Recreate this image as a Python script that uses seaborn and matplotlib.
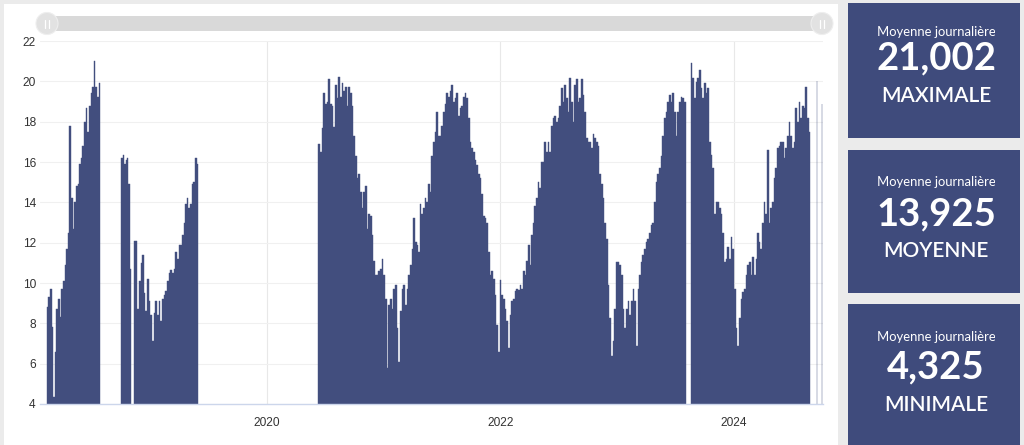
import numpy as np
import pandas as pd
import matplotlib
matplotlib.use("Agg")
import matplotlib.pyplot as plt
import matplotlib.dates as mdates
from matplotlib.patches import Rectangle, FancyBboxPatch, Circle
import seaborn as sns

# --- data: daily average readings, one list per continuous run of records ---
seg1_span = ("2018-02-10", "2018-07-28")
seg1_vals = [8.8, 9.3, 9.7, 7.8, 4.33, 6.6, 8.7, 9.2, 8.3, 9.7, 10.1, 10.9, 11.7,
             12.5, 17.8, 14.2, 12.7, 14.0, 14.8, 14.9, 15.9, 16.2, 16.8, 18.0,
             18.7, 17.5, 18.8, 19.4, 19.7, 21.0, 19.7, 19.2, 19.9]

seg2_span = ("2018-10-02", "2018-11-01")
seg2_vals = [16.2, 16.35, 15.9, 16.1, 16.2, 14.9, 10.7]

seg3_span = ("2018-11-10", "2019-05-31")
seg3_vals = [12.1, 12.1, 8.7, 10.1, 11.0, 11.4, 9.5, 8.6, 10.2, 9.1, 8.4, 7.1,
             8.5, 9.1, 8.4, 9.1, 8.1, 9.2, 9.4, 9.6, 10.1, 10.5, 10.65, 10.5,
             10.7, 11.55, 11.2, 11.9, 11.9, 12.4, 13.0, 13.9, 14.2, 13.7, 13.9,
             14.9, 15.0, 16.2, 15.9]

seg4_span = ("2020-06-10", "2023-08-04")
seg4_vals = [
    # 2020 - early 2021
    16.9, 16.5, 17.7, 19.4, 18.9, 19.0, 20.1, 18.9, 18.8, 17.75, 19.8, 19.15,
    20.2, 19.2, 19.9, 19.5, 19.7, 18.8, 19.7, 19.4, 18.8, 17.3, 16.3, 15.2,
    15.4, 14.5, 13.7, 14.5, 14.8, 12.7, 13.4, 13.3, 12.4, 11.1, 10.4, 10.4,
    10.6, 10.7, 11.2, 10.4, 9.2, 5.8, 8.9, 9.2, 8.7, 9.7, 9.9, 7.75, 6.1, 8.6,
    9.7, 9.9, 8.9, 9.7, 10.4, 10.9,
    # 2021 - early 2022
    11.7, 13.2, 12.05, 11.9, 11.55, 13.9, 13.4, 13.7, 14.2, 14.0, 14.9, 14.5,
    16.3, 17.0, 17.5, 18.5, 17.3, 17.3, 17.8, 18.5, 18.9, 19.4, 19.2, 19.5,
    19.8, 19.0, 19.15, 19.4, 18.3, 18.7, 18.8, 19.2, 19.4, 19.15, 18.2, 17.0,
    16.7, 16.5, 16.1, 15.85, 15.4, 15.2, 14.4, 13.3, 13.2, 13.0, 11.55, 10.4,
    10.6, 10.2, 9.4, 7.9, 6.6, 10.15, 9.4, 9.2, 8.7, 8.1, 6.8, 8.4,
    # 2022 - early 2023
    9.1, 9.2, 9.6, 9.7, 9.65, 9.9, 9.7, 10.6, 10.4, 11.1, 11.9, 10.9, 12.4,
    13.0, 13.8, 14.2, 15.0, 14.7, 16.0, 16.0, 17.0, 16.5, 17.0, 16.5, 17.8,
    18.2, 18.3, 18.0, 18.2, 18.8, 19.65, 19.0, 19.8, 19.15, 18.5, 20.15, 19.0,
    18.0, 19.8, 20.1, 19.0, 19.15, 20.1, 19.3, 18.5, 17.2, 17.0, 17.0, 16.7,
    17.4, 17.2, 17.0, 16.8, 15.4, 14.9, 14.2, 13.0, 12.2, 9.9, 8.25,
    # 2023
    6.4, 7.1, 8.7, 11.05, 11.05, 10.9, 10.4, 8.7, 7.75, 8.7, 9.1, 8.4, 9.1,
    9.7, 9.1, 6.9, 9.7, 10.4, 11.05, 11.4, 11.7, 12.05, 12.2, 12.5, 12.9,
    13.0, 14.0, 15.0, 15.4, 15.7, 16.3, 17.3, 18.2, 18.5, 19.0, 19.3, 19.0,
    19.4, 18.5, 17.3, 18.5, 19.0, 19.2, 19.15, 19.0,
]

seg5_span = ("2023-08-20", "2024-08-28")
seg5_vals = [20.9, 20.15, 19.15, 19.95, 20.15, 20.55, 19.65, 19.15, 19.9, 19.4,
             19.65, 17.0, 16.35, 15.7, 13.4, 14.0, 14.0, 13.7, 13.4, 12.5,
             11.05, 11.2, 11.8, 11.2, 12.3, 11.7, 9.7, 7.75, 6.9, 8.25, 9.2,
             9.55, 9.7, 10.4, 10.9, 11.05, 10.4, 11.3, 10.4, 11.2, 12.5, 12.05,
             11.7, 13.0, 14.0, 13.4, 16.6, 13.0, 13.7, 14.0, 15.2, 15.7, 16.7,
             16.8, 17.0, 17.0, 16.2, 16.7, 17.3, 18.0, 17.3, 16.7, 17.0, 18.66,
             18.0, 19.0, 18.2, 18.8, 18.66, 19.7, 18.2, 17.5]

single_days = ["2024-09-18", "2024-10-04"]
single_vals = [20.0, 18.9]

kpi_label = "Moyenne journalière"
kpi_values = ["21,002", "13,925", "4,325"]
kpi_names = ["MAXIMALE", "MOYENNE", "MINIMALE"]

y_ticks = [4, 6, 8, 10, 12, 14, 16, 18, 20, 22]
x_ticks = ["2020-01-01", "2022-01-01", "2024-01-01"]
x_range = ("2018-01-20", "2024-10-06")

BAR = "#424e7e"
CARD = "#3f4b7c"

# --- build one table of bins (day numbers) ---
segments = [(seg1_span, seg1_vals), (seg2_span, seg2_vals), (seg3_span, seg3_vals),
            (seg4_span, seg4_vals), (seg5_span, seg5_vals)]
edges, mids, vals = [], [], []
for (start, end), v in segments:
    e = np.linspace(mdates.datestr2num(start), mdates.datestr2num(end), len(v) + 1)
    edges.extend(e.tolist())
    mids.extend(((e[:-1] + e[1:]) / 2).tolist())
    vals.extend(v)
for d, v in zip(single_days, single_vals):
    d0 = mdates.datestr2num(d)
    edges.extend([d0, d0 + 1])
    mids.append(d0 + 0.5)
    vals.append(v)
df = pd.DataFrame({"day": mids, "value": vals})

sns.set_theme(style="white")
plt.rcParams["font.family"] = ["Lato", "DejaVu Sans"]

fig = plt.figure(figsize=(10.24, 4.45), dpi=100, facecolor="#ebebeb")

# background layer in pixel units
bg = fig.add_axes([0, 0, 1, 1], zorder=0)
bg.set_xlim(0, 1024)
bg.set_ylim(445, 0)
bg.axis("off")
bg.add_patch(Rectangle((4, 4), 834, 445, facecolor="white", edgecolor="none"))

# range slider on top of the chart
bg.add_patch(FancyBboxPatch((47, 16), 775, 15, boxstyle="round,pad=0,rounding_size=7.5",
                            facecolor="#d9d9d9", edgecolor="none"))
for cx in (47, 822):
    bg.add_patch(Circle((cx, 23.5), 11, facecolor="#e2e2e2", edgecolor="#eeeeee", lw=0.8))
    for dx in (-1.6, 1.6):
        bg.plot([cx + dx, cx + dx], [19.5, 27.5], color="white", lw=0.9)

# KPI cards
card_tops = [3, 150, 304]
card_heights = [135, 143, 145]
label_y = [32, 182, 337]
value_y = [58, 214, 367]
name_y = [96, 251, 405]
for i in range(3):
    bg.add_patch(Rectangle((848, card_tops[i]), 172, card_heights[i],
                           facecolor=CARD, edgecolor="none"))
    t = bg.text(877, label_y[i], kpi_label, color="white", fontsize=9.4,
                ha="left", va="center", clip_on=True)
    t.set_clip_path(Rectangle((848, 0), 147, 445, transform=bg.transData))
    bg.text(936, value_y[i], kpi_values[i], color="white", fontsize=27.5,
            fontweight="bold", ha="center", va="center")
    bg.text(936, name_y[i], kpi_names[i], color="white", fontsize=15,
            fontweight="semibold", ha="center", va="center")

# main chart
ax = fig.add_axes([40 / 1024, 1 - 404 / 445, (822.7 - 40) / 1024, (404 - 41) / 445], zorder=2)
ax.set_facecolor("white")
sns.histplot(data=df, x="day", weights="value", bins=edges, stat="count",
             color=BAR, alpha=1, edgecolor=BAR, linewidth=0.3, ax=ax)

ax.set_xlim(mdates.datestr2num(x_range[0]), mdates.datestr2num(x_range[1]))
ax.set_ylim(y_ticks[0], y_ticks[-1])
ax.set_yticks(y_ticks)
ax.set_xticks([mdates.datestr2num(t) for t in x_ticks])
ax.set_xticklabels([t[:4] for t in x_ticks])
ax.set_xlabel("")
ax.set_ylabel("")
ax.set_axisbelow(True)
ax.grid(axis="y", color="#f0f0f0", lw=0.8)
ax.grid(axis="x", color="#e8e8e8", lw=0.8)
for s in ("top", "right", "left"):
    ax.spines[s].set_visible(False)
ax.spines["bottom"].set_color("#ccd6eb")
ax.spines["bottom"].set_linewidth(1)
ax.tick_params(axis="x", length=4, color="#ccd6eb", width=1, pad=5,
               labelsize=8.6, labelcolor="#333333")
ax.tick_params(axis="y", length=0, pad=3, labelsize=8.6, labelcolor="#333333")
for lab in ax.get_xticklabels() + ax.get_yticklabels():
    lab.set_fontfamily(["Liberation Sans", "DejaVu Sans"])

fig.savefig("out.png", dpi=100, facecolor=fig.get_facecolor())
